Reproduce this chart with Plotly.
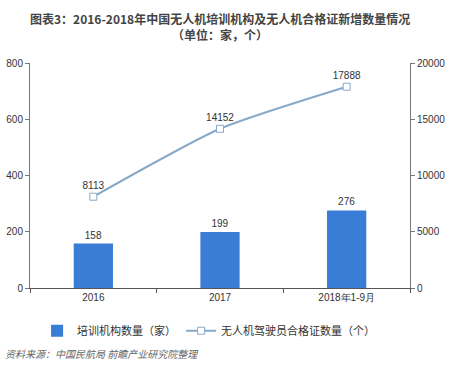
import plotly.graph_objects as go

categories = ["2016", "2017", "2018年1-9月"]
training_orgs = [158, 199, 276]
certificates = [8113, 14152, 17888]
left_ticks = [0, 200, 400, 600, 800]
right_ticks = [0, 5000, 10000, 15000, 20000]

num_font = "Liberation Sans, Arial, sans-serif"
cjk_font = "Noto Sans CJK SC, sans-serif"

fig = go.Figure()
fig.add_trace(go.Bar(
    x=categories, y=training_orgs, name="培训机构数量（家）",
    marker=dict(color="#3a7dd6", line=dict(width=0)),
    width=0.31,
    text=[str(v) for v in training_orgs], textposition="outside",
    textfont=dict(family=num_font, size=10, color="#333333"),
    cliponaxis=False,
))
fig.add_trace(go.Scatter(
    x=categories, y=certificates, name="无人机驾驶员合格证数量（个）",
    yaxis="y2", mode="lines+markers+text",
    line=dict(color="#86a9c8", width=2, shape="spline", smoothing=0.6),
    marker=dict(symbol="square", size=7, color="white", line=dict(color="#86a9c8", width=1)),
    text=[str(v) for v in certificates], textposition="top center",
    textfont=dict(family=num_font, size=10, color="#333333"),
    cliponaxis=False,
))

fig.update_layout(
    width=450, height=370,
    margin=dict(l=30, r=40, t=63, b=82, autoexpand=False),
    paper_bgcolor="white", plot_bgcolor="white",
    font=dict(family=cjk_font, size=11, color="#333333"),
    xaxis=dict(
        type="category", range=[-0.5, 2.5], automargin=False,
        showline=True, linecolor="#555555", linewidth=1,
        ticks="outside", tickson="boundaries", ticklen=4, tickcolor="#555555",
        tickfont=dict(family=num_font, size=10, color="#333333"),
        showgrid=False,
    ),
    yaxis=dict(
        range=[0, 800], tickvals=left_ticks, automargin=False,
        showline=True, linecolor="#777777", linewidth=1,
        ticks="outside", ticklen=4, tickcolor="#777777",
        tickfont=dict(family=num_font, size=10, color="#333333"),
        showgrid=False, zeroline=False,
    ),
    yaxis2=dict(
        range=[0, 20000], tickvals=right_ticks, tickformat="d",
        overlaying="y", side="right", automargin=False,
        showline=True, linecolor="#777777", linewidth=1,
        ticks="outside", ticklen=4, tickcolor="#777777",
        tickfont=dict(family=num_font, size=10, color="#333333"),
        showgrid=False, zeroline=False,
    ),
    legend=dict(
        orientation="h", x=0.47, xanchor="center", y=-0.19, yanchor="middle",
        font=dict(family=cjk_font, size=11, color="#333333"),
    ),
    showlegend=True,
)

fig.add_annotation(
    text="<b>图表3：2016-2018年中国无人机培训机构及无人机合格证新增数量情况</b>",
    xref="paper", yref="paper", x=0.5, y=(370 - 82 - 18) / 225,
    xanchor="center", yanchor="middle", showarrow=False,
    font=dict(family=cjk_font, size=12, color="#444444"),
)
fig.add_annotation(
    text="<b>（单位：家，个）</b>",
    xref="paper", yref="paper", x=0.5, y=(370 - 82 - 34) / 225,
    xanchor="center", yanchor="middle", showarrow=False,
    font=dict(family=cjk_font, size=12, color="#444444"),
)
fig.add_annotation(
    text="<i>资料来源：中国民航局 前瞻产业研究院整理</i>",
    xref="paper", yref="paper", x=-0.07, y=-0.29, xanchor="left", yanchor="middle",
    showarrow=False, font=dict(family=cjk_font, size=10, color="#666666"),
)

fig.write_html(
    "out.html",
    config={"displayModeBar": False},
    post_script="document.body.style.margin='0';document.body.style.padding='0';",
)
